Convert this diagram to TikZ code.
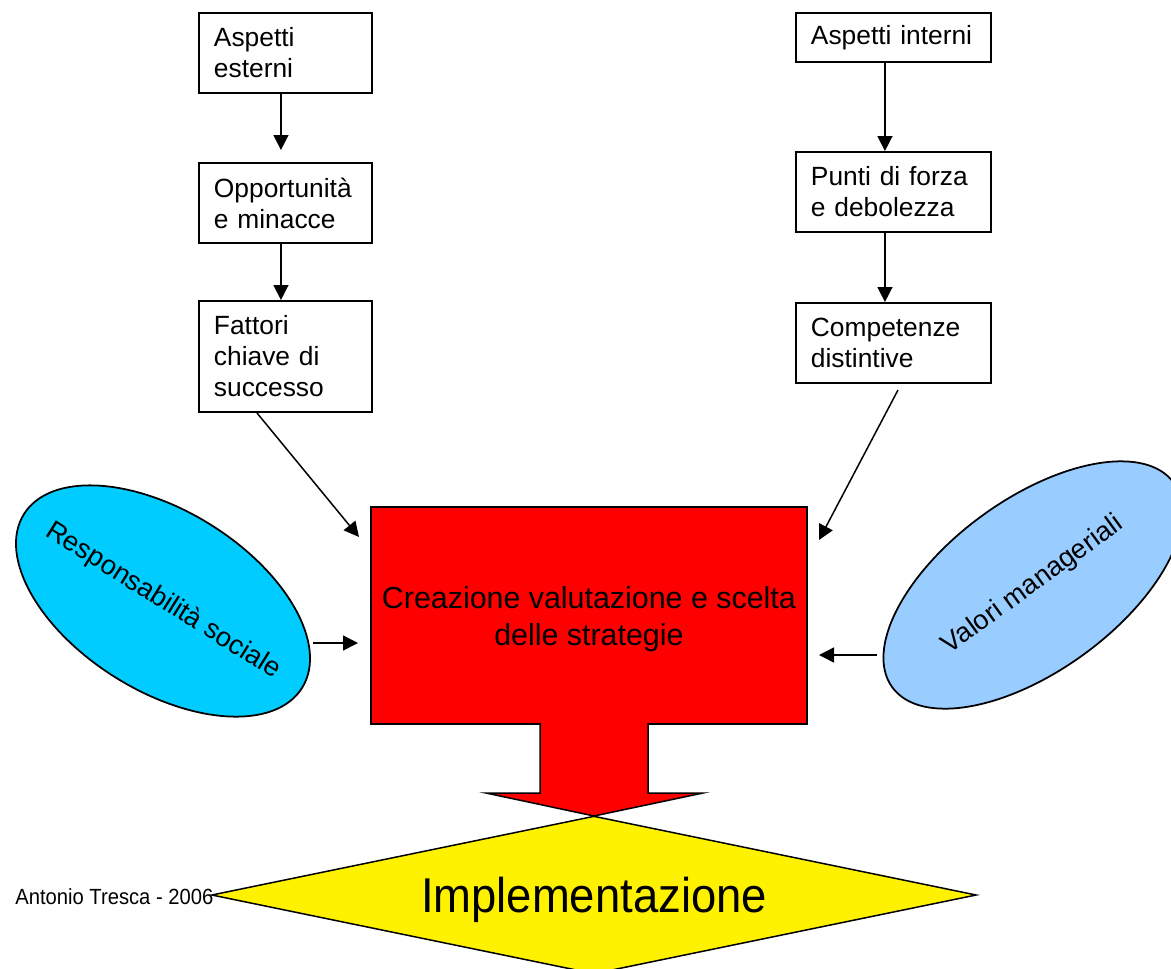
\documentclass[tikz,border=0pt]{standalone}
\usepackage{fontspec}
\setmainfont{Liberation Sans}
\usetikzlibrary{arrows.meta,shapes.geometric}
\definecolor{ellcyan}{HTML}{00CCFF}
\definecolor{ellblue}{HTML}{99CCFF}

\begin{document}
\begin{tikzpicture}[x=0.02cm, y=-0.02cm,
	box/.style={draw, line width=1.1pt, rectangle, anchor=north west, align=left, inner xsep=0.3cm, inner ysep=0pt, font=\fontsize{15}{17.6}\selectfont},
	ell/.style={draw, ellipse, line width=1pt, inner sep=0pt, font=\fontsize{15.5}{18}\selectfont},
	arr/.style={-{Triangle[length=0.3cm,width=0.3cm]}, line width=0.85pt}]
	\useasboundingbox (0,0) rectangle (1171,968);

			\node[box, text width=2.86cm, minimum height=1.6cm] (aspEst) at (198,12) {Aspetti\\esterni};
			\node[box, text width=2.86cm, minimum height=1.6cm] (opp) at (198,162) {Opportunità\\e minacce};
			\node[box, text width=2.86cm, minimum height=2.22cm] (fattori) at (198,300) {Fattori\\chiave di\\successo};
			\node[box, text width=3.3cm, minimum height=0.98cm] (aspInt) at (795,12) {Aspetti interni};
			\node[box, text width=3.3cm, minimum height=1.6cm] (punti) at (795,151) {Punti di forza\\e debolezza};
			\node[box, text width=3.3cm, minimum height=1.6cm] (comp) at (795,302) {Competenze\\distintive};

			\node[draw, fill=red, line width=1.1pt, anchor=north west, minimum width=8.72cm, minimum height=4.34cm, align=center, font=\fontsize{17.3}{21}\selectfont] (scelta) at (370,506) {\\[-0.5ex]Creazione valutazione e scelta\\delle strategie};

			\node[ell, fill=ellcyan, minimum width=6.56cm, minimum height=3.6cm, rotate=-32] (resp) at (163,601) {\makebox[0pt][c]{Responsabilità sociale}};
			\node[ell, fill=ellblue, minimum width=6.96cm, minimum height=3.44cm, rotate=36] (valori) at (1033,585) {\makebox[0pt][c]{Valori manageriali}};

			\draw[fill=red, line width=0.85pt] (540,723) -- (540,793) -- (486,793) -- (594,816) -- (703,793) -- (648,793) -- (648,723);
			\node[draw, diamond, fill=yellow, line width=0.85pt, shape aspect=4.84, minimum width=15.3cm, minimum height=3.16cm, inner sep=0pt, text depth=0pt, font=\fontsize{27.8}{32}\selectfont] (impl) at (594,895) {\scalebox{0.93}[1]{Implementazione}};
			\node[anchor=west, inner sep=0pt, font=\fontsize{12.5}{14}\selectfont] (autore) at (15,897) {\scalebox{0.92}[1]{Antonio Tresca - 2006}};

			\coordinate (fOut) at (257,413);
			\coordinate (sIn1) at (359,537);
			\coordinate (cOut) at (898,390);
			\coordinate (sIn2) at (819,540);
			\coordinate (rOut) at (313,643);
			\coordinate (sIn3) at (358,643);
			\coordinate (vOut) at (877,655);
			\coordinate (sIn4) at (819,655);

			\draw[arr, shorten >=0.24cm] ([xshift=-0.09cm]aspEst.south) to ([xshift=-0.09cm]opp.north);
			\draw[arr] ([xshift=-0.09cm]opp.south) to ([xshift=-0.09cm]fattori.north);
			\draw[arr] ([xshift=-0.17cm]aspInt.south) to ([xshift=-0.17cm]punti.north);
			\draw[arr] ([xshift=-0.17cm]punti.south) to ([xshift=-0.17cm]comp.north);
			\draw[arr] (fOut) to (sIn1);
			\draw[arr] (cOut) to (sIn2);
			\draw[arr] (rOut) to (sIn3);
			\draw[arr] (vOut) to (sIn4);
	\end{tikzpicture}
\end{document}
